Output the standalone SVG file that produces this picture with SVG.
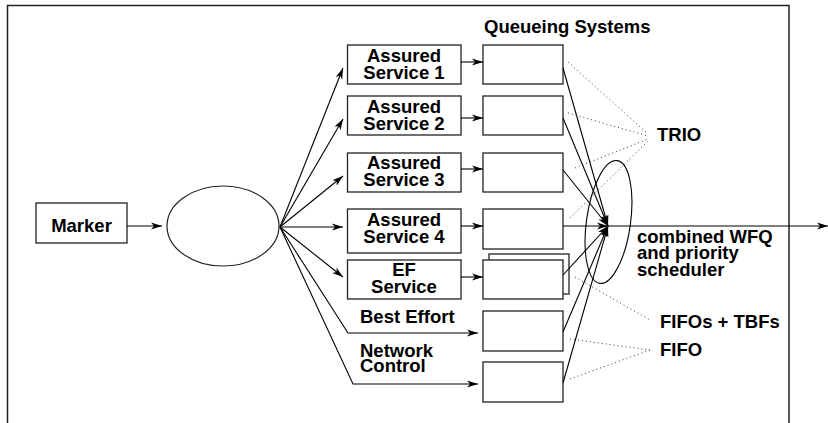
<svg xmlns="http://www.w3.org/2000/svg" width="828" height="423" viewBox="0 0 828 423">
<defs>
<style>
text{font-family:"Liberation Sans",Arial,Helvetica,sans-serif;font-weight:bold;font-size:18.5px;fill:#000}
.c{text-anchor:middle}
.box{fill:#fff;stroke:#222;stroke-width:1.3}
.ln{fill:none;stroke:#000;stroke-width:1.1}
.dot{fill:none;stroke:#333;stroke-width:1;stroke-dasharray:1 3}
</style>
<marker id="ah" markerWidth="12" markerHeight="8" refX="11" refY="4" orient="auto" markerUnits="userSpaceOnUse">
<path d="M0,0.5 L11,4 L0,7.5 L3,4 z" fill="#000"/>
</marker>
</defs>
<path d="M7.5,423 V5.5 H789 V423" fill="none" stroke="#222" stroke-width="1.5"/>

<g id="marker"><rect class="box" x="36" y="203" width="91" height="40"/><text class="c" x="81.5" y="232">Marker</text></g>
<g id="classifier"><ellipse cx="223" cy="226" rx="56" ry="40" fill="#fff" stroke="#222" stroke-width="1.2"/></g>

<g id="as1"><rect class="box" x="347.5" y="45" width="113.5" height="39"/><text class="c" x="404" y="62">Assured</text><text class="c" x="404" y="79">Service 1</text></g>
<g id="as2"><rect class="box" x="347.5" y="96" width="113.5" height="39"/><text class="c" x="404" y="113">Assured</text><text class="c" x="404" y="130">Service 2</text></g>
<g id="as3"><rect class="box" x="347.5" y="153" width="113.5" height="39"/><text class="c" x="404" y="169">Assured</text><text class="c" x="404" y="186">Service 3</text></g>
<g id="as4"><rect class="box" x="347.5" y="209" width="113.5" height="44"/><text class="c" x="404" y="226">Assured</text><text class="c" x="404" y="243">Service 4</text></g>
<g id="ef"><rect class="box" x="347.5" y="260" width="113.5" height="39"/><text class="c" x="404" y="276">EF</text><text class="c" x="404" y="293">Service</text></g>
<g id="be"><text x="360" y="323">Best Effort</text></g>
<g id="nc"><text x="360" y="357">Network</text><text x="360" y="372">Control</text></g>

<g id="title"><text x="484" y="33">Queueing Systems</text></g>
<g id="q1"><rect class="box" x="483" y="45" width="80" height="39"/></g>
<g id="q2"><rect class="box" x="483" y="96" width="80" height="39"/></g>
<g id="q3"><rect class="box" x="483" y="153" width="80" height="39"/></g>
<g id="q4"><rect class="box" x="483" y="209" width="80" height="40"/></g>
<g id="q5"><rect class="box" x="489" y="254" width="80" height="40"/><rect class="box" x="483" y="260" width="80" height="39"/></g>
<g id="q6"><rect class="box" x="483" y="311" width="80" height="40"/></g>
<g id="q7"><rect class="box" x="483" y="362" width="80" height="40"/></g>

<g id="scheduler"><ellipse cx="608.5" cy="222" rx="22" ry="62" fill="none" stroke="#000" stroke-width="1.1" transform="rotate(8 608.5 222)"/></g>

<g id="labels">
<text x="657" y="141">TRIO</text>
<text x="637" y="243">combined WFQ</text>
<text x="637" y="259">and priority</text>
<text x="637" y="276">scheduler</text>
<text x="660" y="328">FIFOs + TBFs</text>
<text x="660" y="356">FIFO</text>
</g>

<g id="connectors">
<line class="ln" x1="127" y1="226" x2="162" y2="226" marker-end="url(#ah)"/>
<line class="ln" x1="280" y1="227" x2="343" y2="68" marker-end="url(#ah)"/>
<line class="ln" x1="280" y1="227" x2="343" y2="119" marker-end="url(#ah)"/>
<line class="ln" x1="280" y1="227" x2="343" y2="176" marker-end="url(#ah)"/>
<line class="ln" x1="280" y1="227" x2="343" y2="227" marker-end="url(#ah)"/>
<line class="ln" x1="280" y1="227" x2="343" y2="277" marker-end="url(#ah)"/>
<polyline class="ln" points="280,227 348,333 478,333" marker-end="url(#ah)"/>
<polyline class="ln" points="280,227 353,384 478,384" marker-end="url(#ah)"/>
<line class="ln" x1="461" y1="62" x2="483" y2="62" marker-end="url(#ah)"/>
<line class="ln" x1="461" y1="118" x2="483" y2="118" marker-end="url(#ah)"/>
<line class="ln" x1="461" y1="169" x2="483" y2="169" marker-end="url(#ah)"/>
<line class="ln" x1="461" y1="226" x2="483" y2="226" marker-end="url(#ah)"/>
<line class="ln" x1="461" y1="277" x2="483" y2="277" marker-end="url(#ah)"/>
<line class="ln" x1="563" y1="68" x2="608" y2="226" marker-end="url(#ah)"/>
<line class="ln" x1="563" y1="118" x2="608" y2="226" marker-end="url(#ah)"/>
<line class="ln" x1="563" y1="170" x2="608" y2="226" marker-end="url(#ah)"/>
<line class="ln" x1="563" y1="226" x2="608" y2="226" marker-end="url(#ah)"/>
<line class="ln" x1="563" y1="275" x2="608" y2="226" marker-end="url(#ah)"/>
<line class="ln" x1="563" y1="332" x2="608" y2="226" marker-end="url(#ah)"/>
<line class="ln" x1="563" y1="383" x2="608" y2="226" marker-end="url(#ah)"/>
<line class="ln" x1="608" y1="226" x2="828" y2="226" marker-end="url(#ah)"/>
<polyline class="dot" points="568,62 648,134"/>
<polyline class="dot" points="568,113 648,136"/>
<polyline class="dot" points="575,168 648,139"/>
<polyline class="dot" points="570,218 648,141"/>
<polyline class="dot" points="575,277 650,320"/>
<polyline class="dot" points="570,339 650,350"/>
<polyline class="dot" points="570,379 650,350"/>
</g>
</svg>
